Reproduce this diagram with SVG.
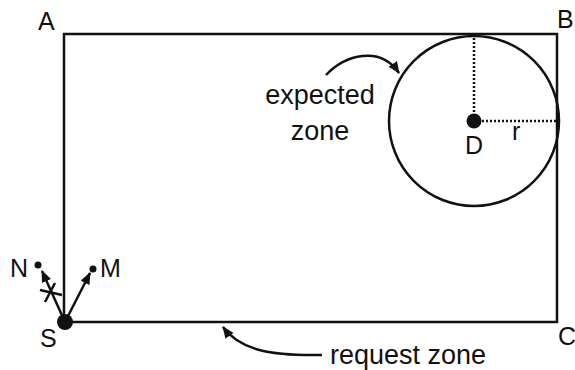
<svg xmlns="http://www.w3.org/2000/svg" width="575" height="370" viewBox="0 0 575 370">
<style>
.t{font-family:"Liberation Sans",Arial,sans-serif;fill:#111;}
.lbl{font-size:25px;}
.w{font-size:27px;}
.ln{stroke:#111;stroke-width:2.5;fill:none;}
.dot{stroke:#111;stroke-width:2.5;stroke-dasharray:2 2;fill:none;}
</style>
<defs>
<marker id="ah" markerUnits="userSpaceOnUse" markerWidth="12" markerHeight="10" refX="11" refY="5" orient="auto">
<path d="M0,0 L12,5 L0,10 Z" fill="#111"/>
</marker>
</defs>
<rect width="575" height="370" fill="#fff"/>
<g id="request-zone">
<rect x="64" y="34" width="493" height="288" class="ln"/>
</g>
<g id="expected-zone">
<circle cx="474" cy="121" r="85" class="ln"/>
<line x1="474" y1="38" x2="474" y2="121" class="dot"/>
<line x1="474" y1="121" x2="557" y2="121" class="dot"/>
</g>
<g id="D">
<circle cx="474" cy="121" r="7.5" fill="#111"/>
<text x="474" y="154" class="t lbl" text-anchor="middle">D</text>
<text x="512" y="140" class="t lbl">r</text>
</g>
<g id="S">
<circle cx="65" cy="322" r="8" fill="#111"/>
<text x="40" y="347" class="t lbl">S</text>
</g>
<g id="N">
<circle cx="38" cy="265" r="3.5" fill="#111"/>
<text x="10" y="277" class="t lbl">N</text>
</g>
<g id="M">
<circle cx="93" cy="269" r="3.5" fill="#111"/>
<text x="100" y="277" class="t lbl">M</text>
</g>
<g id="corners">
<text x="38" y="30" class="t lbl">A</text>
<text x="557" y="28" class="t lbl">B</text>
<text x="558" y="345" class="t lbl">C</text>
</g>
<g id="labels">
<text x="320" y="104" class="t w" text-anchor="middle">expected</text>
<text x="320" y="140" class="t w" text-anchor="middle">zone</text>
<text x="330" y="364" class="t w">request zone</text>
</g>
<g id="connectors">
<line x1="65" y1="322" x2="90" y2="273" class="ln" stroke-width="2" marker-end="url(#ah)"/>
<line x1="65" y1="322" x2="42" y2="271" class="ln" stroke-width="2" marker-end="url(#ah)"/>
<line x1="40" y1="290" x2="62" y2="295" class="ln" stroke-width="2"/>
<line x1="45" y1="302" x2="55" y2="283" class="ln" stroke-width="2"/>
<path d="M326,75 C345,55 380,45 399,73" class="ln" stroke-width="2" marker-end="url(#ah)"/>
<path d="M322,355 C270,356 240,350 223,327" class="ln" stroke-width="2" marker-end="url(#ah)"/>
</g>
</svg>
